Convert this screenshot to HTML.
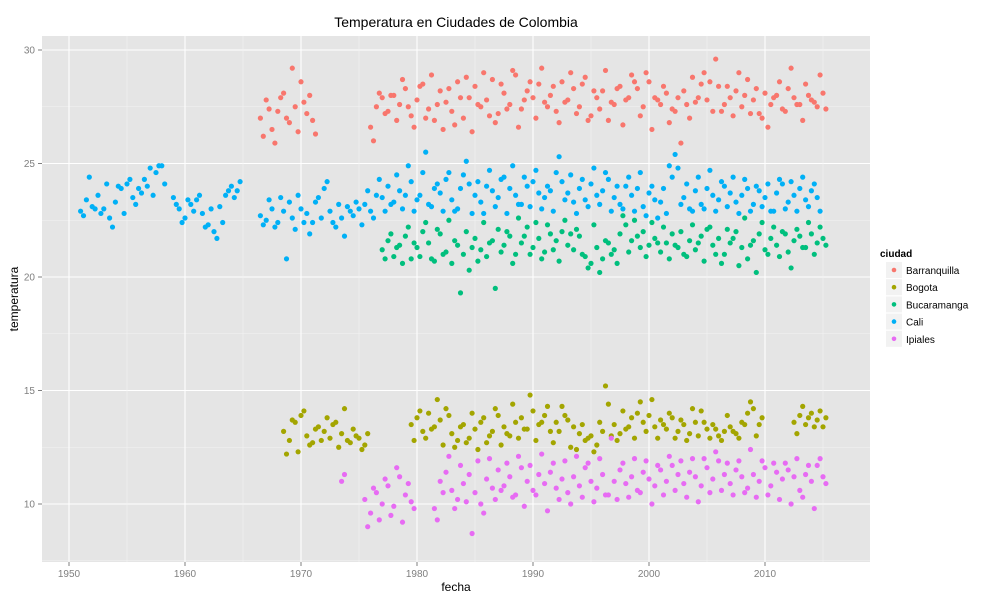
<!DOCTYPE html>
<html><head><meta charset="utf-8">
<style>
body{margin:0;background:#fff;font-family:"Liberation Sans",sans-serif;}
svg text{font-family:"Liberation Sans",sans-serif;}
</style></head>
<body>
<svg id="chart" width="1000" height="600" xmlns="http://www.w3.org/2000/svg">
<text x="456" y="27" font-size="14" text-anchor="middle" fill="#000">Temperatura en Ciudades de Colombia</text>
<rect x="42" y="36" width="828" height="526" fill="#E5E5E5"/>
<g id="grid"></g>
<g id="points"></g>
<g id="axes"></g>
<text x="456" y="591" font-size="12" text-anchor="middle">fecha</text>
<text x="18" y="299" font-size="12" text-anchor="middle" transform="rotate(-90 18 299)">temperatura</text>
<g id="legend">
<text x="880" y="257" font-size="10" font-weight="bold">ciudad</text>
</g>
</svg>
<script>
const categories = ["Barranquilla","Bogota","Bucaramanga","Cali","Ipiales"];
const colors = ["#F8766D","#A3A500","#00BF7D","#00B0F6","#E76BF3"];
const xTicks = [1950,1960,1970,1980,1990,2000,2010];
const yTicks = [10,15,20,25,30];
const step = 0.5;
// segments: start year + values (one value every half-year); "Q" arrays are the readings a quarter-year later
const barranquillaStarts = [1966.5, 1976];
const barranquillaA = [27.0,27.8,26.5,27.3,28.1,26.8,27.5,28.6,27.2,26.9];
const barranquillaAQ = [26.2,27.4,25.9,27.9,27.0,29.2,26.4,27.7,28.0,26.3];
const barranquillaB = [26.6,27.5,27.9,27.3,28.0,27.6,28.3,27.1,27.8,28.5,27.4,26.9,28.2,27.7,27.3,28.6,27.0,27.9,28.4,27.5,27.8,28.7,27.2,28.1,27.6,28.9,27.4,28.2,27.9,28.5,27.7,28.0,27.3,28.6,27.8,28.3,27.5,28.8,27.1,27.9,28.2,26.9,27.6,28.4,27.8,28.9,28.3,27.5,28.6,27.9,27.6,28.1,27.4,27.9,28.2,27.0,27.7,28.5,27.8,27.3,28.4,27.6,27.9,28.2,27.5,28.7,27.8,27.2,28.1,27.6,28.0,27.4,28.3,27.9,27.6,28.5,27.8,27.5,28.1];
const barranquillaBQ = [26.0,28.1,27.2,28.0,26.9,28.7,27.5,26.6,28.4,27.0,28.9,27.6,26.5,28.3,26.7,27.9,28.8,26.4,27.6,29.0,27.1,26.8,28.5,27.4,29.1,26.6,27.8,28.6,27.0,29.2,27.5,28.4,26.8,27.7,29.0,27.2,28.5,26.9,28.2,27.4,29.1,27.7,28.3,26.7,27.9,28.6,27.1,29.0,26.5,27.8,28.4,26.8,27.3,25.9,27.6,28.8,27.9,29.0,28.6,29.6,27.3,28.4,27.1,29.0,28.0,27.2,28.3,27.0,26.6,27.9,28.6,27.3,29.2,27.6,26.9,28.0,27.7,28.9,27.4];
const bogotaStarts = [1968.5, 1979.5, 2012.5];
const bogotaA = [13.2,12.8,13.6,13.9,13.0,12.7,13.4,13.2,12.9,13.6,13.1,12.8,13.3,12.9,12.6];
const bogotaAQ = [12.2,13.7,12.3,14.1,12.6,13.3,12.8,13.8,13.5,12.5,14.2,12.7,13.0,12.4,13.1];
const bogotaB = [13.5,13.8,13.2,14.0,13.4,13.7,14.2,13.1,12.8,13.5,12.9,13.3,13.6,12.7,13.2,13.9,13.4,13.0,13.6,13.8,13.3,14.1,13.5,13.9,13.2,13.6,14.3,13.7,13.4,13.1,12.8,13.0,12.6,13.2,14.4,13.5,13.1,13.3,13.8,14.0,13.6,13.9,13.4,13.7,13.3,13.8,13.2,13.5,13.1,13.6,14.1,13.3,13.5,13.0,13.2,13.4,13.1,13.6,14.0,14.2,13.5];
const bogotaBQ = [12.8,14.1,12.9,13.3,14.6,12.6,13.9,12.5,13.4,12.7,14.0,12.4,13.8,13.0,14.2,12.6,13.1,14.4,12.9,13.3,14.8,12.8,13.6,14.3,12.7,13.2,13.9,12.5,12.4,13.5,12.9,12.3,13.6,15.2,13.0,12.8,14.1,13.4,12.9,14.5,13.2,14.6,12.9,13.5,14.0,12.9,13.7,12.8,14.2,13.0,13.6,12.9,13.3,12.8,13.9,13.2,12.9,13.5,14.5,13.0,13.8];
const bogotaC = [13.6,13.9,13.5,14.0,13.7,13.4];
const bogotaCQ = [13.1,14.3,13.8,13.4,14.1,13.8];
const bucaramangaStarts = [1977];
const bucaramangaA = [21.2,21.6,20.9,21.4,21.8,20.8,21.3,22.0,21.5,20.7,21.9,21.1,20.6,21.4,21.0,20.3,21.7,21.2,20.9,21.6,22.1,21.4,21.8,21.0,21.5,22.2,21.3,21.7,21.1,21.9,21.6,22.0,21.4,21.2,21.8,20.9,20.6,21.3,20.8,21.5,21.2,21.9,22.3,21.6,21.8,22.0,21.4,21.7,21.1,21.5,21.9,21.3,21.0,21.6,21.2,21.8,22.1,21.4,21.7,21.0,21.5,22.0,21.3,20.8,21.6,21.9,21.2,21.7,21.4,22.0,21.1,21.6,21.8,21.3,21.9,21.5,21.7];
const bucaramangaAQ = [20.8,21.9,21.3,20.6,22.2,21.5,20.9,22.4,20.8,22.1,21.0,22.5,21.6,19.3,22.0,21.3,20.7,22.4,21.5,19.5,21.1,22.0,20.6,22.6,21.8,21.0,22.4,20.8,22.3,21.2,20.7,22.5,21.9,22.1,21.0,20.4,22.3,20.2,21.6,21.0,20.6,22.7,21.1,22.5,21.3,20.9,22.4,21.5,22.2,20.8,21.4,22.0,20.9,22.3,21.5,20.7,22.2,21.0,20.6,22.1,21.7,20.5,22.6,21.4,20.2,22.4,21.0,22.2,20.9,21.9,20.4,22.1,21.3,22.4,21.0,22.2,21.4];
const caliStarts = [1951, 1959, 1966.5];
const caliA = [22.9,23.4,23.1,23.6,23.0,22.6,23.3,23.9,24.1,23.5,23.9,24.3,24.8,24.6,24.9];
const caliAQ = [22.7,24.4,23.0,22.8,24.1,22.2,24.0,22.8,24.3,23.2,23.7,24.0,23.6,24.9,24.1];
const caliB = [23.5,23.0,22.6,23.2,23.4,22.8,22.3,22.0,23.1,23.6,24.0,23.8];
const caliBQ = [23.2,22.4,23.4,22.9,23.6,22.2,23.0,21.7,22.4,23.8,23.5,24.2];
const caliC = [22.7,22.5,23.0,22.4,22.9,23.3,22.1,23.0,22.8,22.4,23.5,23.9,22.9,22.2,22.6,23.1,22.7,23.0,23.2,22.9,23.6,23.5,24.0,23.3,23.8,23.6,24.2,23.4,24.6,23.2,23.9,23.7,24.3,23.4,23.0,24.5,24.1,23.6,23.3,24.0,23.8,23.5,24.4,23.9,23.6,23.2,24.0,24.2,23.7,23.5,23.8,24.6,24.2,23.7,23.3,23.9,23.4,24.1,23.6,23.8,24.3,23.5,23.2,24.0,23.6,23.9,23.1,23.7,23.4,23.3,22.8,24.4,24.8,23.5,23.0,23.8,23.2,23.9,23.6,23.4,24.0,23.7,23.3,23.6,23.9,23.2,23.8,23.5,22.9,23.7,24.1,23.3,23.6,23.9,23.4,23.8,23.5];
const caliCQ = [22.3,23.4,22.2,23.5,20.8,22.6,23.6,22.4,21.9,23.3,22.6,24.2,22.4,23.2,21.8,22.9,23.3,22.3,23.8,22.6,24.3,22.9,23.2,24.5,23.0,24.9,22.9,23.6,25.5,23.1,24.1,22.9,24.6,22.9,23.9,25.1,22.8,24.2,22.8,24.7,23.1,24.3,22.8,24.9,23.2,24.4,23.1,24.7,23.0,24.0,22.9,25.3,23.4,24.5,22.8,24.3,23.1,24.8,23.2,24.6,22.9,24.0,23.0,24.4,22.9,24.6,22.7,24.0,22.6,23.9,24.9,25.4,23.2,24.1,22.9,24.4,23.0,24.7,22.9,24.2,23.1,24.4,22.8,24.3,22.9,24.0,23.1,24.1,22.9,24.3,23.0,24.2,22.9,24.4,23.1,24.1,22.9];
const ipialesStarts = [1973.5, 1975.5, 1981.5];
const ipialesA = [11.0];
const ipialesAQ = [11.3];
const ipialesB = [10.2,9.6,10.5,10.0,10.8,9.9,11.2,10.4,10.1];
const ipialesBQ = [9.0,10.7,9.3,11.1,9.5,11.6,9.2,10.9,9.8];
const ipialesC = [9.8,11.0,11.4,10.6,10.2,10.9,11.3,10.5,10.0,11.1,10.7,11.5,10.8,11.2,10.4,11.6,11.0,10.6,11.3,10.9,11.4,10.7,11.1,10.5,11.2,10.8,11.6,11.0,10.7,11.3,10.4,11.0,11.5,10.9,11.2,10.6,11.4,11.1,10.8,11.5,11.0,11.7,11.3,10.9,11.4,11.2,10.8,11.6,11.1,11.9,11.3,10.9,11.5,11.2,10.7,11.3,11.0,11.6,10.8,11.4,11.1,11.5,11.2,10.6,11.3,11.0,11.7,11.2];
const ipialesCQ = [9.3,10.5,12.1,9.8,11.7,10.1,8.7,11.9,9.6,12.0,10.2,10.6,11.8,10.3,12.1,9.9,11.7,10.4,12.2,9.7,11.8,10.2,11.9,10.0,12.1,10.3,11.8,10.1,12.0,10.4,12.9,10.2,11.8,10.3,12.0,10.5,11.9,10.0,11.7,10.4,12.1,10.6,11.9,10.3,12.0,10.1,12.0,10.5,12.3,10.6,11.8,10.4,11.9,10.5,12.4,10.3,11.9,10.4,11.8,10.2,11.8,10.0,12.0,10.3,11.7,9.8,12.0,10.9];
const series = [
 [barranquillaStarts,[barranquillaA,barranquillaB],[barranquillaAQ,barranquillaBQ]],
 [bogotaStarts,[bogotaA,bogotaB,bogotaC],[bogotaAQ,bogotaBQ,bogotaCQ]],
 [bucaramangaStarts,[bucaramangaA],[bucaramangaAQ]],
 [caliStarts,[caliA,caliB,caliC],[caliAQ,caliBQ,caliCQ]],
 [ipialesStarts,[ipialesA,ipialesB,ipialesC],[ipialesAQ,ipialesBQ,ipialesCQ]]
];
const NS="http://www.w3.org/2000/svg";
const xS = y => 69 + (y-1950)*(765-69)/60;
const yS = v => 504 - (v-10)*(504-50)/20;
function mk(tag, parent){const e=document.createElementNS(NS,tag);document.getElementById(parent).appendChild(e);return e;}
for(let y=7.5;y<=30.5;y+=2.5){
  const l=mk("line","grid");
  
  
  l.setAttribute("x1",42);l.setAttribute("x2",870);l.setAttribute("y1",yS(y));l.setAttribute("y2",yS(y));
  l.setAttribute("stroke", y%5===0?"#fff":"#F2F2F2");l.setAttribute("stroke-width", y%5===0?1.1:0.6);
}
for(let x=1945;x<=2015;x+=5){
  if(xS(x)<42||xS(x)>870)continue;
  const l=mk("line","grid");
  
  
  l.setAttribute("x1",xS(x));l.setAttribute("x2",xS(x));l.setAttribute("y1",36);l.setAttribute("y2",562);
  l.setAttribute("stroke", x%10===0?"#fff":"#F2F2F2");l.setAttribute("stroke-width", x%10===0?1.1:0.6);
}
xTicks.forEach(t=>{
  const tk=mk("line","axes");
  
  
  tk.setAttribute("x1",xS(t));tk.setAttribute("x2",xS(t));tk.setAttribute("y1",562);tk.setAttribute("y2",566);tk.setAttribute("stroke","#7F7F7F");
  const tx=mk("text","axes");
  
  
  tx.setAttribute("x",xS(t));tx.setAttribute("y",577);tx.setAttribute("font-size","10");tx.setAttribute("fill","#7F7F7F");tx.setAttribute("text-anchor","middle");tx.textContent=t;
});
yTicks.forEach(t=>{
  const tk=mk("line","axes");
  
  
  tk.setAttribute("x1",38);tk.setAttribute("x2",42);tk.setAttribute("y1",yS(t));tk.setAttribute("y2",yS(t));tk.setAttribute("stroke","#7F7F7F");
  const tx=mk("text","axes");
  
  
  tx.setAttribute("x",35);tx.setAttribute("y",yS(t)+3.5);tx.setAttribute("font-size","10");tx.setAttribute("fill","#7F7F7F");tx.setAttribute("text-anchor","end");tx.textContent=t;
});
series.forEach((s,ci)=>{
  const starts=s[0];
  [[s[1],0],[s[2],0.25]].forEach(([segs,off])=>{
    segs.forEach((vals,si)=>{
      vals.forEach((v,i)=>{
        const c=mk("circle","points");
        
        
        c.setAttribute("cx",xS(starts[si]+off+i*step));c.setAttribute("cy",yS(v));c.setAttribute("r",2.6);c.setAttribute("fill",colors[ci]);
      });
    });
  });
});
categories.forEach((name,i)=>{
  const y=262+i*17.2;
  const r=mk("rect","legend");
  
  
  r.setAttribute("x",886);r.setAttribute("y",y);r.setAttribute("width",16);r.setAttribute("height",16);r.setAttribute("fill","#F2F2F2");
  const c=mk("circle","legend");
  
  
  c.setAttribute("cx",894);c.setAttribute("cy",y+8);c.setAttribute("r",2.3);c.setAttribute("fill",colors[i]);
  const t=mk("text","legend");
  
  
  t.setAttribute("x",906);t.setAttribute("y",y+12);t.setAttribute("font-size","10");t.textContent=name;
});
</script>
</body></html>
